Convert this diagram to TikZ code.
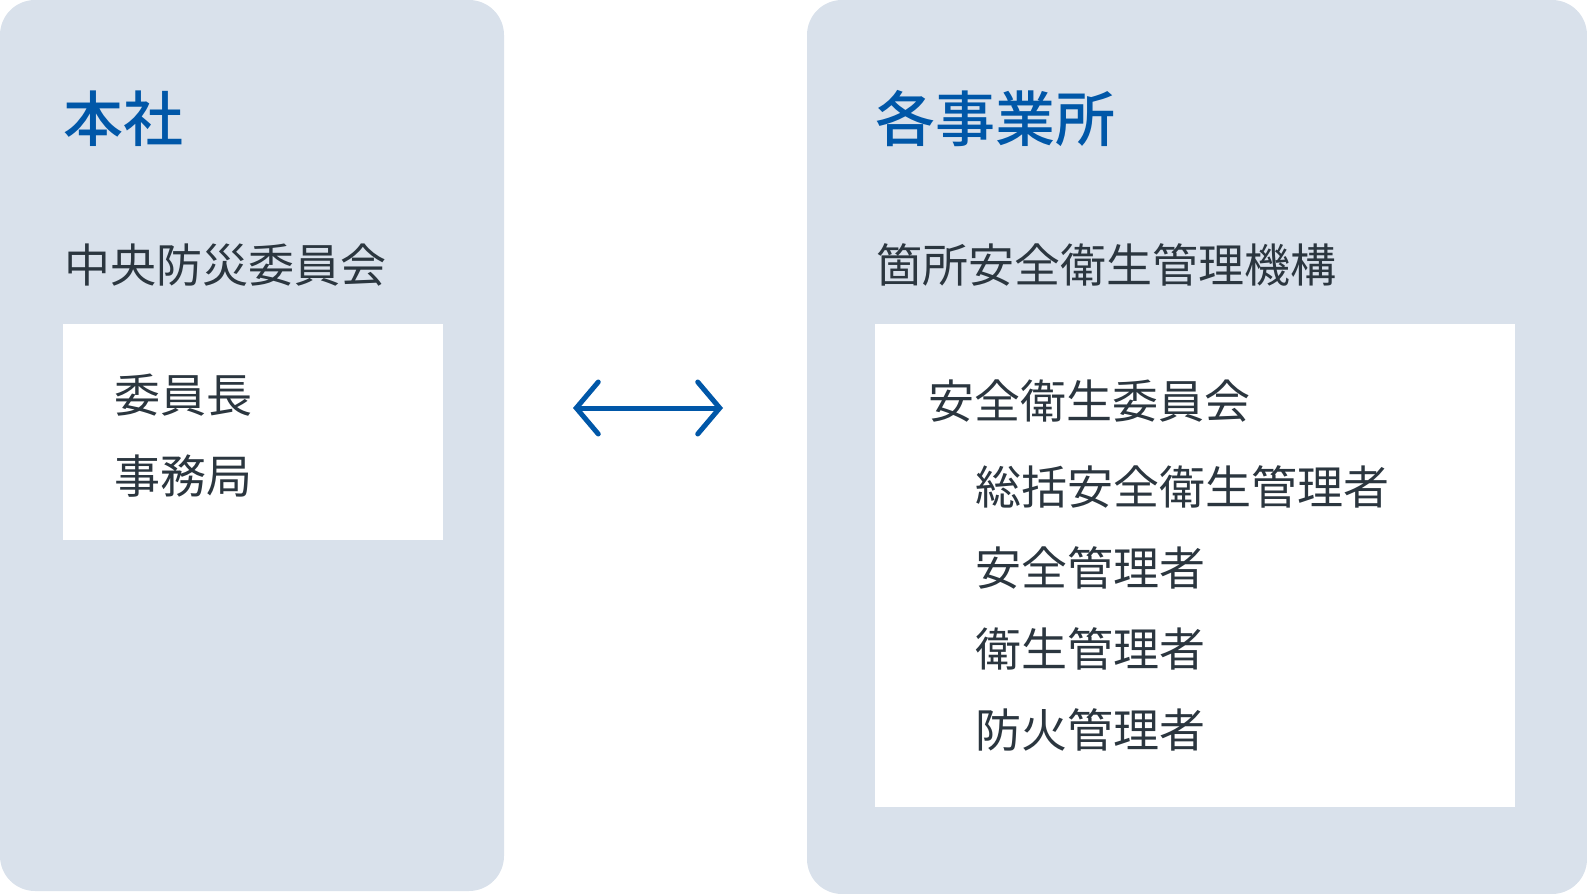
\documentclass[tikz,border=0pt]{standalone}
\usepackage{fontspec}
\setmainfont{Noto Sans CJK JP}[BoldFont={Noto Sans CJK JP Medium}]
\usetikzlibrary{arrows.meta}
\definecolor{panelgray}{HTML}{D9E1EB}
\definecolor{titleblue}{HTML}{0057A8}
\definecolor{textdark}{HTML}{2B363F}

\begin{document}
\begin{tikzpicture}[x=0.5pt, y=-0.5pt,
    panel/.style = {fill=panelgray, rounded corners=17.5pt},
    sheet/.style = {fill=white},
    title/.style = {anchor=west, inner sep=0, text=titleblue, font=\fontsize{30pt}{30pt}\selectfont\bfseries},
    item/.style = {anchor=west, inner sep=0, text=textdark, font=\fontsize{23pt}{23pt}\selectfont}]
    \useasboundingbox (0,0) rectangle (1587,894);

    % panels
    \fill[panel] (0,0) rectangle (504,891);
    \fill[panel] (807,0) rectangle (1587,894);
    \fill[sheet] (63,324) rectangle (443,540);
    \fill[sheet] (875,324) rectangle (1515,807);

    % head office
    \node[title] (HQ) at (63,119) {本社};
    \node[item] (CDC) at (64,265) {中央防災委員会};
    \node[item] (Chair) at (114,395) {委員長};
    \node[item] (Sec) at (114,476) {事務局};

    % sites
    \node[title] (Site) at (875,119) {各事業所};
    \node[item] (Org) at (876,265) {箇所安全衛生管理機構};
    \node[item] (SHC) at (928,401) {安全衛生委員会};
    \node[item] (GM) at (975,487) {総括安全衛生管理者};
    \node[item] (SM) at (975,568) {安全管理者};
    \node[item] (HM) at (975,649) {衛生管理者};
    \node[item] (FM) at (975,730) {防火管理者};

    \coordinate (L) at (573,408);
    \coordinate (R) at (723,408);
    \draw[titleblue, line width=2.5pt, line cap=round,
          {Straight Barb[length=11pt, width=26pt, line cap=round]}-{Straight Barb[length=11pt, width=26pt, line cap=round]}] (L) -- (R);
\end{tikzpicture}
\end{document}
